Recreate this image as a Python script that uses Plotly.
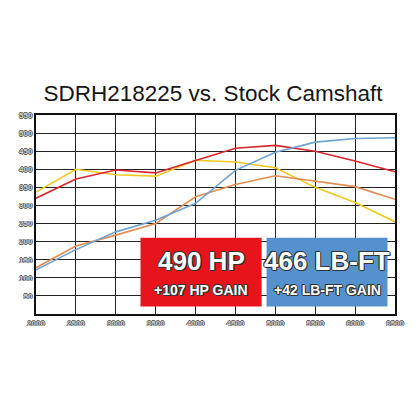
import plotly.graph_objects as go

rpm = [2000, 2500, 3000, 3500, 4000, 4500, 5000, 5500, 6000, 6500]
tq_new = [320, 373, 398, 390, 424, 458, 466, 450, 423, 393]
tq_stock = [337, 400, 385, 381, 425, 420, 404, 350, 308, 255]
hp_new = [122, 178, 227, 259, 306, 397, 447, 475, 485, 487]
hp_stock = [128, 188, 218, 250, 324, 358, 382, 368, 352, 317]

title_text = "SDRH218225 vs. Stock Camshaft"
hp_big, hp_small = "490 HP", "+107 HP GAIN"
tq_big, tq_small = "466 LB-FT", "+42 LB-FT GAIN"

x_ticks = [2000, 2500, 3000, 3500, 4000, 4500, 5000, 5500, 6000, 6500]
y_ticks = [50, 100, 150, 200, 250, 300, 350, 400, 450, 500, 550]

fig = go.Figure()
for ys, col in [(tq_stock, "#f2c81e"), (hp_stock, "#e08c52"), (tq_new, "#d8262d"), (hp_new, "#6ea2d2")]:
    fig.add_trace(go.Scatter(x=rpm, y=ys, mode="lines", line=dict(color=col, width=1.6),
                             showlegend=False, hoverinfo="skip"))

outline = "1px 0 0 #333, -1px 0 0 #333, 0 1px 0 #333, 0 -1px 0 #333, 1px 1px 0 #333, -1px -1px 0 #333"
tick_font = dict(family="Liberation Sans", size=8, color="#d0d0d0", weight="bold",
                 shadow="0.7px 0 0 #555, -0.7px 0 0 #555, 0 0.7px 0 #555, 0 -0.7px 0 #555")

fig.update_layout(
    width=416, height=416,
    margin=dict(l=36, r=17, t=115, b=102),
    paper_bgcolor="white", plot_bgcolor="white",
    title=dict(text=title_text, x=0.512, xref="container", y=1 - 92.7 / 416, yref="container",
               xanchor="center", yanchor="middle",
               font=dict(family="Liberation Sans, Arial", size=22.5, color="#151515")),
    xaxis=dict(range=[2000, 6500], tickvals=x_ticks, showgrid=True, gridcolor="#222", gridwidth=1.3,
               zeroline=False, showline=True, linecolor="#111", linewidth=2, mirror=True,
               tickfont=tick_font, ticks="", ticklen=0),
    yaxis=dict(range=[0, 550], tickvals=y_ticks, showgrid=True, gridcolor="#222", gridwidth=1.3,
               zeroline=False, showline=True, linecolor="#111", linewidth=2, mirror=True,
               tickfont=tick_font, ticks="", ticklen=0),
)

boxes = [
    (3310, 4828, "#e8141c", hp_big, hp_small),
    (4890, 6406, "#5592cd", tq_big, tq_small),
]
big_font = dict(family="Liberation Sans, Arial", size=26, color="white", weight="bold", shadow=outline)
small_font = dict(family="Liberation Sans, Arial", size=14, color="white", weight="bold", shadow=outline)
for x0, x1, col, big, small in boxes:
    fig.add_shape(type="rect", xref="x", yref="y", x0=x0, x1=x1, y0=21, y1=211,
                  fillcolor=col, line=dict(width=0), layer="above")
    xc = (x0 + x1) / 2
    fig.add_annotation(x=xc, y=146, xref="x", yref="y", text=big, showarrow=False,
                       font=big_font, xanchor="center", yanchor="middle")
    fig.add_annotation(x=xc, y=65, xref="x", yref="y", text=small, showarrow=False,
                       font=small_font, xanchor="center", yanchor="middle")

fig.write_html("out.html", config={"displayModeBar": False},
               post_script="document.body.style.margin='0';document.body.style.padding='0';")
